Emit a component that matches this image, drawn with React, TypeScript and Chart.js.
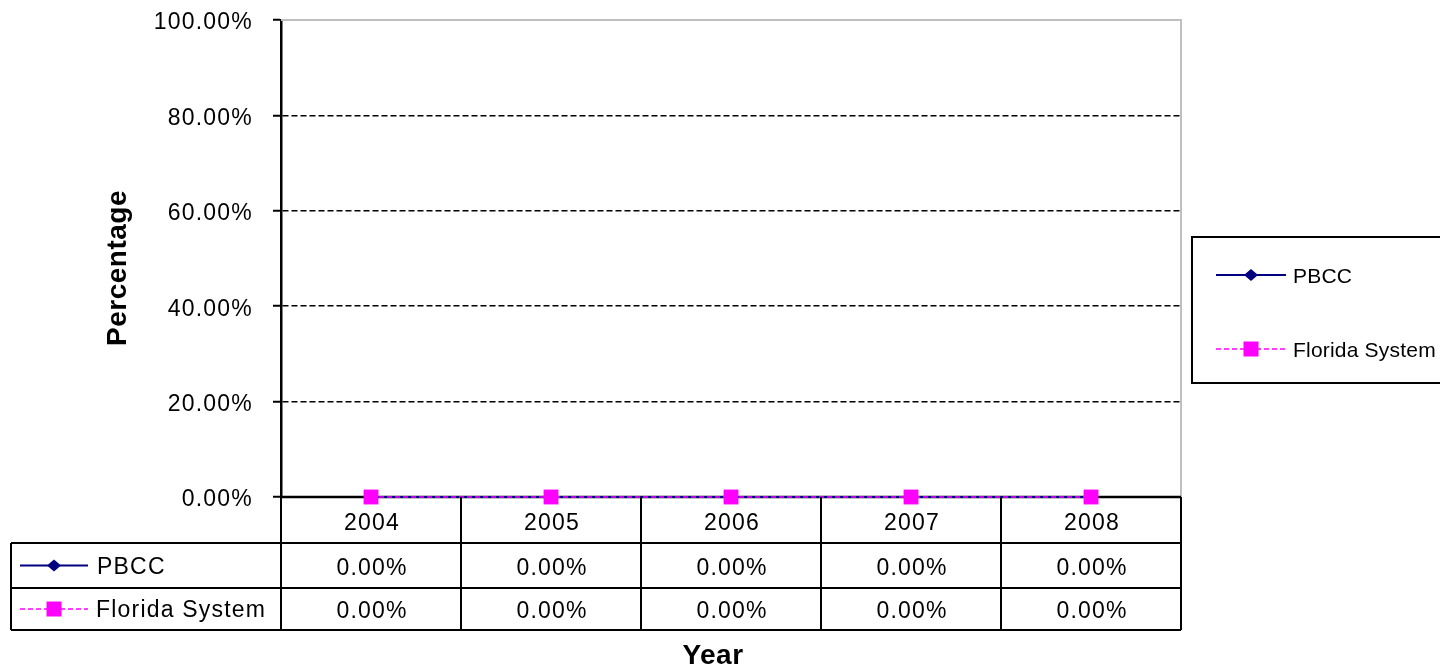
import React, { useEffect, useRef } from "react";
import { Chart, registerables } from "chart.js";

Chart.register(...registerables);

const categories = ["2004", "2005", "2006", "2007", "2008"];
const pbccValues = [0, 0, 0, 0, 0];
const floridaValues = [0, 0, 0, 0, 0];
const seriesNames = ["PBCC", "Florida System"];
const yMin = 0;
const yMax = 1;
const yStep = 0.2;

const FONT = "'Liberation Sans', Arial, sans-serif";
const NAVY = "#000080";
const MAGENTA = "#FF00FF";

function fmtPct(v: number) {
  return (v * 100).toFixed(2) + "%";
}

function drawDiamond(ctx: CanvasRenderingContext2D, x: number, y: number, rx: number, ry: number, color: string) {
  ctx.save();
  ctx.fillStyle = color;
  ctx.beginPath();
  ctx.moveTo(x, y - ry);
  ctx.lineTo(x + rx, y);
  ctx.lineTo(x, y + ry);
  ctx.lineTo(x - rx, y);
  ctx.closePath();
  ctx.fill();
  ctx.restore();
}

function drawSquare(ctx: CanvasRenderingContext2D, x: number, y: number, s: number, color: string) {
  ctx.save();
  ctx.fillStyle = color;
  ctx.fillRect(x - s / 2, y - s / 2, s, s);
  ctx.restore();
}

function drawKey(ctx: CanvasRenderingContext2D, idx: number, x1: number, x2: number, y: number) {
  ctx.save();
  ctx.lineWidth = idx === 0 ? 2 : 1.5;
  ctx.strokeStyle = idx === 0 ? NAVY : MAGENTA;
  ctx.setLineDash(idx === 0 ? [] : [5, 3]);
  ctx.beginPath();
  ctx.moveTo(x1, y);
  ctx.lineTo(x2, y);
  ctx.stroke();
  ctx.restore();
  const cx = (x1 + x2) / 2;
  if (idx === 0) drawDiamond(ctx, cx, y, 7, 6, NAVY);
  else drawSquare(ctx, cx, y, 15, MAGENTA);
}

const tablePlugin = {
  id: "tablePlugin",
  beforeDraw(chart: any) {
    (chart.ctx as any).letterSpacing = "1.2px";
  },
  beforeDatasetsDraw(chart: any) {
    const { ctx, chartArea } = chart;
    ctx.save();
    ctx.strokeStyle = "#BFBFBF";
    ctx.lineWidth = 2;
    ctx.beginPath();
    ctx.moveTo(chartArea.left, chartArea.top);
    ctx.lineTo(chartArea.right, chartArea.top);
    ctx.lineTo(chartArea.right, chartArea.bottom);
    ctx.stroke();
    ctx.strokeStyle = "#000";
    ctx.lineWidth = 2.5;
    ctx.beginPath();
    ctx.moveTo(chartArea.left, chartArea.bottom);
    ctx.lineTo(chartArea.right, chartArea.bottom);
    ctx.stroke();
    ctx.restore();
  },
  afterDraw(chart: any) {
    const { ctx, chartArea } = chart;
    const xs = chart.scales.x;
    const left = chartArea.left;
    const right = chartArea.right;
    const top = chartArea.bottom;
    const row1 = 543;
    const row2 = 588;
    const bottom = 630;
    const tableLeft = 11;
    const colW = (right - left) / categories.length;

    ctx.save();
    ctx.strokeStyle = "#000";
    ctx.lineWidth = 2;
    ctx.beginPath();
    [row1, row2, bottom].forEach((y) => {
      ctx.moveTo(tableLeft, y);
      ctx.lineTo(right, y);
    });
    for (let i = 0; i <= categories.length; i++) {
      const x = left + i * colW;
      ctx.moveTo(x, top);
      ctx.lineTo(x, bottom);
    }
    ctx.moveTo(tableLeft, row1);
    ctx.lineTo(tableLeft, bottom);
    ctx.stroke();

    ctx.fillStyle = "#000";
    ctx.font = `23px ${FONT}`;
    (ctx as any).letterSpacing = "1.2px";
    ctx.textAlign = "center";
    ctx.textBaseline = "middle";
    const series = [pbccValues, floridaValues];
    categories.forEach((c, i) => {
      const x = xs.getPixelForValue(i) + 1;
      ctx.fillText(c, x, (top + row1) / 2 + 4);
      ctx.fillText(fmtPct(series[0][i]), x, (row1 + row2) / 2 + 3);
      ctx.fillText(fmtPct(series[1][i]), x, (row2 + bottom) / 2 + 3);
    });

    ctx.textAlign = "left";
    drawKey(ctx, 0, 20, 88, (row1 + row2) / 2);
    drawKey(ctx, 1, 20, 88, (row2 + bottom) / 2);
    ctx.fillStyle = "#000";
    ctx.fillText(seriesNames[0], 97, (row1 + row2) / 2 + 2);
    ctx.fillText(seriesNames[1], 96, (row2 + bottom) / 2 + 2);

    // legend box on the right
    ctx.lineWidth = 2;
    ctx.strokeRect(1192, 237, 270, 146);
    drawKey(ctx, 0, 1216, 1286, 275);
    drawKey(ctx, 1, 1216, 1286, 349);
    ctx.fillStyle = "#000";
    ctx.font = `21px ${FONT}`;
    (ctx as any).letterSpacing = "0.2px";
    ctx.fillText(seriesNames[0], 1293, 277);
    ctx.fillText(seriesNames[1], 1293, 351);

    // axis titles
    ctx.font = `bold 28px ${FONT}`;
    (ctx as any).letterSpacing = "0.5px";
    ctx.textAlign = "center";
    ctx.fillText("Year", 713, 656);
    ctx.save();
    ctx.translate(118, 268);
    ctx.rotate(-Math.PI / 2);
    ctx.fillText("Percentage", 0, 0);
    ctx.restore();
    ctx.restore();
  },
};

export default function App() {
  const ref = useRef<HTMLCanvasElement>(null);
  useEffect(() => {
    if (!ref.current) return;
    const chart = new Chart(ref.current, {
      type: "line",
      data: {
        labels: categories,
        datasets: [
          {
            label: seriesNames[0],
            data: pbccValues,
            order: 2,
            borderColor: NAVY,
            backgroundColor: NAVY,
            borderWidth: 2,
            pointStyle: "rectRot",
            pointRadius: 7,
            pointBackgroundColor: NAVY,
            pointBorderWidth: 0,
            clip: false as any,
          },
          {
            label: seriesNames[1],
            data: floridaValues,
            order: 1,
            borderColor: MAGENTA,
            backgroundColor: MAGENTA,
            borderWidth: 1.5,
            borderDash: [5, 3],
            pointStyle: "rect",
            pointRadius: 10.5,
            pointBackgroundColor: MAGENTA,
            pointBorderWidth: 0,
            clip: false as any,
          },
        ],
      },
      options: {
        responsive: false,
        animation: false,
        layout: { padding: { left: 0, top: 20, right: 259, bottom: 0 } },
        plugins: { legend: { display: false }, tooltip: { enabled: false } },
        scales: {
          x: {
            type: "category",
            offset: true,
            grid: { display: false },
            border: { display: false },
            ticks: { display: false },
            afterFit: (scale: any) => {
              scale.height = 173;
              scale.paddingLeft = 0;
              scale.paddingRight = 0;
            },
          },
          y: {
            min: yMin,
            max: yMax,
            ticks: {
              stepSize: yStep,
              padding: 20,
              labelOffset: 3,
              color: "#000",
              font: { family: FONT, size: 23 },
              callback: (v: any) => fmtPct(Number(v)),
            },
            grid: {
              color: (c: any) =>
                c.tick && (c.tick.value === yMin || c.tick.value === yMax) ? "rgba(0,0,0,0)" : "#000",
              lineWidth: 1.5,
              drawTicks: true,
              tickLength: 8,
              tickColor: "#000",
              tickWidth: 2,
              tickBorderDash: [],
            } as any,
            border: { display: true, color: "#000", width: 2.5, dash: [6, 3] },
            afterFit: (scale: any) => {
              scale.width = 281;
              scale.paddingTop = 0;
              scale.paddingBottom = 0;
            },
          },
        },
      },
      plugins: [tablePlugin],
    });
    return () => chart.destroy();
  }, []);
  return (
    <div style={{ position: "fixed", left: 0, top: 0, width: 1440, height: 670, background: "#fff" }}>
      <canvas ref={ref} width={1440} height={670} style={{ width: 1440, height: 670, display: "block" }} />
    </div>
  );
}
